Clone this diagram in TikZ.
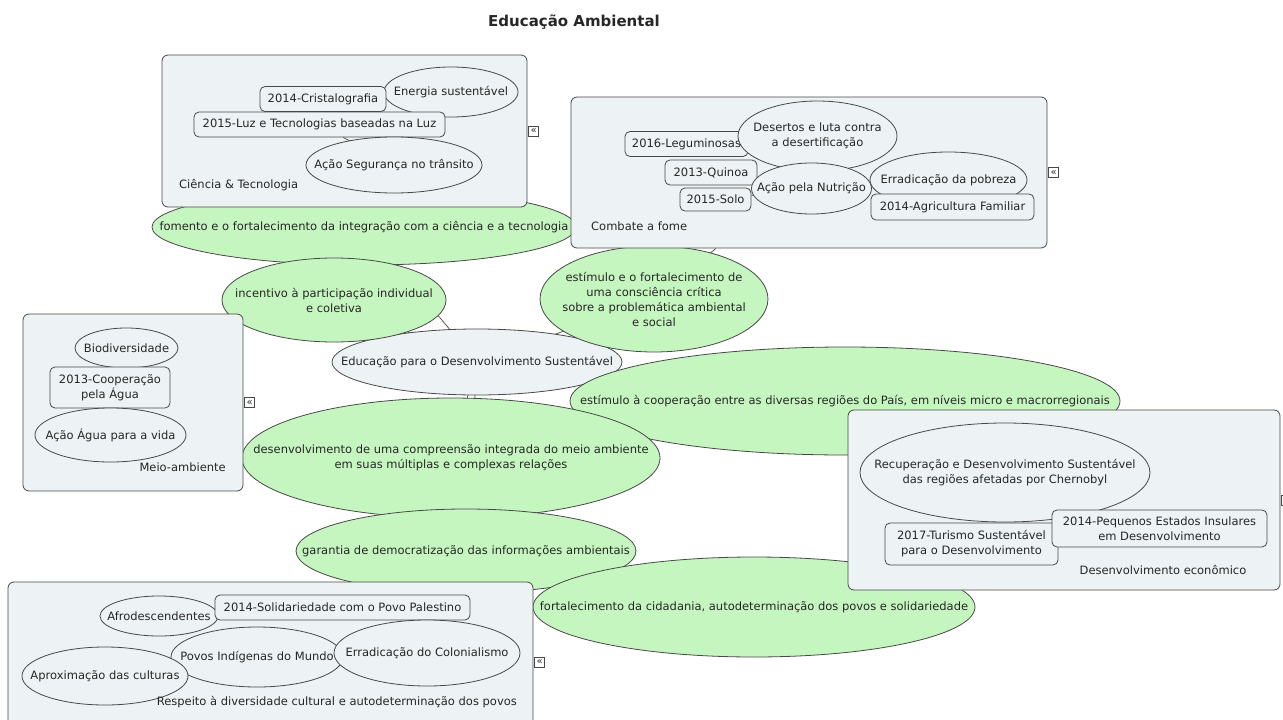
\documentclass[tikz,border=0pt]{standalone}
\usepackage{fontspec}
\setmainfont{DejaVu Sans}
\usetikzlibrary{positioning}
\pgfdeclarelayer{links}
\pgfdeclarelayer{bubbles}
\pgfdeclarelayer{frames}
\pgfdeclarelayer{inner}
\pgfsetlayers{links,bubbles,frames,inner,main}

\definecolor{boxfill}{RGB}{237,242,244}
\definecolor{bubgreen}{RGB}{198,246,192}
\definecolor{edge}{RGB}{72,72,72}
\definecolor{ink}{RGB}{38,38,38}

\newcommand{\mapfont}{\fontsize{11.5}{15}\selectfont}
% oval with its text: style, name, centre, x radius, y radius, text
\newcommand{\ovalnode}[6]{%
  \draw[#1] (#3) ellipse [x radius=#4pt, y radius=#5pt];
  \node[txt] (#2) at (#3) {#6};}

\tikzset{
  txt/.style={align=center, text=ink, inner sep=1pt},
  frame/.style={draw=edge, fill=boxfill, rounded corners=6pt, line width=0.8pt, inner sep=0pt},
  core/.style={draw=edge, fill=boxfill, line width=0.8pt},
  bub/.style={draw=edge, fill=bubgreen, line width=0.8pt},
  sub/.style={draw=edge, fill=boxfill, line width=0.8pt},
  tag/.style={draw=edge, fill=boxfill, rounded corners=5pt, line width=0.8pt,
    inner sep=0pt, minimum height=25pt, align=center, text=ink},
  link/.style={draw=edge, line width=0.7pt},
  fold/.style={draw=edge, fill=white, line width=0.5pt, inner sep=0pt, minimum size=10pt,
    text=ink, font=\fontsize{10}{10}\selectfont},
}

\begin{document}
\begin{tikzpicture}[x=1pt, y=-1pt, font=\mapfont]
    \useasboundingbox (0,0) rectangle (1283,720);

    \node[text=ink, font=\bfseries\fontsize{15}{18}\selectfont] (title) at (574,22) {Educação Ambiental};

    % central topic and the green branches
    \begin{pgfonlayer}{bubbles}
        \ovalnode{core}{eds}{477,362}{145}{33}{Educação para o Desenvolvimento Sustentável}
        \ovalnode{bub}{fomento}{364,227}{212}{38}{fomento e o fortalecimento da integração com a ciência e a tecnologia}
        \ovalnode{bub}{incentivo}{334,300}{112}{42}{incentivo à participação individual\\e coletiva}
        \ovalnode{bub}{critica}{654,299}{114}{53}{estímulo e o fortalecimento de\\uma consciência crítica\\sobre a problemática ambiental\\e social}
        \ovalnode{bub}{cooperacao}{845,401}{275}{54}{estímulo à cooperação entre as diversas regiões do País, em níveis micro e macrorregionais}
        \ovalnode{bub}{integrada}{451,458}{209}{60}{desenvolvimento de uma compreensão integrada do meio ambiente\\em suas múltiplas e complexas relações}
        \ovalnode{bub}{garantia}{466,551}{170}{42}{garantia de democratização das informações ambientais}
        \ovalnode{bub}{cidadania}{754,607}{221}{50}{fortalecimento da cidadania, autodeterminação dos povos e solidariedade}
    \end{pgfonlayer}

    % the five boundary boxes
    \begin{pgfonlayer}{frames}
        \node[frame, minimum width=365pt, minimum height=152pt] (ct) at (344.5,131) {};
        \node[frame, minimum width=476pt, minimum height=151pt] (cf) at (809,172.5) {};
        \node[frame, minimum width=220pt, minimum height=177pt] (ma) at (133,402.5) {};
        \node[frame, minimum width=432pt, minimum height=180pt] (de) at (1064,500) {};
        \node[frame, minimum width=525pt, minimum height=160pt] (rd) at (270.5,662) {};
    \end{pgfonlayer}
    \node[fold, right=1pt of ct] (ctfold) {«};
    \node[fold, right=1pt of cf] (cffold) {«};
    \node[fold, right=1pt of ma] (mafold) {«};
    \node[fold, right=1pt of de] (defold) {«};
    \node[fold, right=1pt of rd] (rdfold) {«};

    % Ciencia & Tecnologia
    \ovalnode{sub}{energia}{451,92}{67}{25}{Energia sustentável}
    \node[tag, minimum width=126pt] (crist14) at (323,99) {2014-Cristalografia};
    \node[tag, minimum width=251pt] (luz15) at (319.5,124.5) {2015-Luz e Tecnologias baseadas na Luz};
    \ovalnode{sub}{transito}{394,165}{88}{28}{Ação Segurança no trânsito}
    \node[txt, anchor=west] (ctlab) at (178,185) {Ciência \& Tecnologia};

    % Combate a fome
    \node[tag, minimum width=123pt] (legum16) at (686.5,144) {2016-Leguminosas};
    \ovalnode{sub}{desertos}{817.5,136}{79.5}{35}{Desertos e luta contra\\a desertificação}
    \node[tag, minimum width=92pt] (quinoa13) at (711,172.5) {2013-Quinoa};
    \node[tag, minimum width=71pt, minimum height=23pt] (solo15) at (715.5,199.5) {2015-Solo};
    \ovalnode{sub}{nutricao}{811.5,188.5}{60}{25.5}{Ação pela Nutrição}
    \ovalnode{sub}{pobreza}{948.5,180}{78.5}{28}{Erradicação da pobreza}
    \node[tag, minimum width=163pt, minimum height=26pt] (agri14) at (952.5,207) {2014-Agricultura Familiar};
    \node[txt, anchor=west] (cflab) at (590,226) {Combate a fome};

    % Meio-ambiente
    \ovalnode{sub}{biodiv}{126.5,348}{51.5}{20}{Biodiversidade}
    \node[tag, minimum width=120pt, minimum height=41pt] (coop13) at (110,387.5) {2013-Cooperação\\pela Água};
    \ovalnode{sub}{aguavida}{110.5,435}{75.5}{27}{Ação Água para a vida}
    \node[txt, anchor=east] (malab) at (227,467) {Meio-ambiente};

    % Desenvolvimento economico
    \ovalnode{sub}{chernobyl}{1005,472.5}{145}{49.5}{Recuperação e Desenvolvimento Sustentável\\das regiões afetadas por Chernobyl}
    \node[tag, minimum width=173pt, minimum height=42pt] (turismo17) at (971.5,544) {2017-Turismo Sustentável\\para o Desenvolvimento};
    \node[tag, minimum width=215pt, minimum height=37pt] (ilhas14) at (1159.5,528.5) {2014-Pequenos Estados Insulares\\em Desenvolvimento};
    \node[txt] (delab) at (1163,570) {Desenvolvimento econômico};

    % Respeito a diversidade cultural
    \ovalnode{sub}{afro}{159,616}{59}{20}{Afrodescendentes}
    \node[tag, minimum width=255pt] (solid14) at (342.5,607.5) {2014-Solidariedade com o Povo Palestino};
    \ovalnode{sub}{indigenas}{257,657}{86}{30}{Povos Indígenas do Mundo}
    \ovalnode{sub}{colonial}{427,653}{93}{33}{Erradicação do Colonialismo}
    \ovalnode{sub}{culturas}{105,676}{83}{29}{Aproximação das culturas}
    \node[txt, anchor=east] (rdlab) at (518,702) {Respeito à diversidade cultural e autodeterminação dos povos};

    % branches, under everything
    \begin{pgfonlayer}{links}
        \draw[link] (eds) -- (fomento);
        \draw[link] (eds) -- (incentivo);
        \draw[link] (eds) -- (critica);
        \draw[link] (eds) -- (cooperacao);
        \draw[link] (eds) -- (integrada);
        \draw[link] (eds) -- (garantia);
        \draw[link] (garantia) -- (cidadania);
        \draw[link] (fomento) -- (ct);
        \draw[link] (critica) -- (cf);
        \draw[link] (cooperacao) -- (de);
    \end{pgfonlayer}
    % links inside the boxes
    \begin{pgfonlayer}{inner}
        \draw[link] (crist14) -- (energia);
        \draw[link] (luz15) -- (transito);
        \draw[link] (nutricao) -- (quinoa13);
        \draw[link] (nutricao) -- (solo15);
        \draw[link] (nutricao) -- (desertos);
        \draw[link] (nutricao) -- (pobreza);
    \end{pgfonlayer}
\end{tikzpicture}
\end{document}
